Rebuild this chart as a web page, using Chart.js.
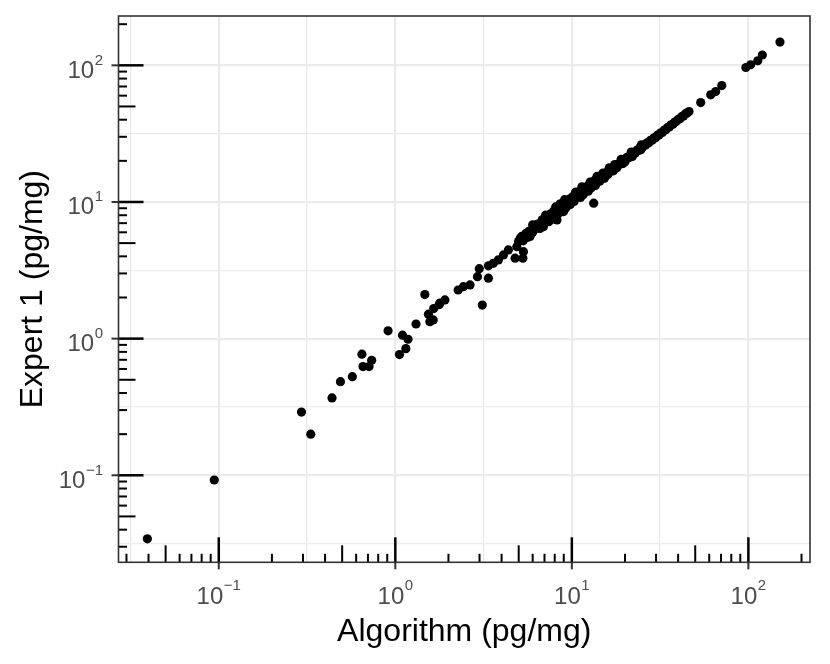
<!DOCTYPE html>
<html><head><meta charset="utf-8">
<script src="https://cdn.jsdelivr.net/npm/chart.js@4"></script>
<style>html,body{margin:0;padding:0;background:#fff;}#wrap{width:830px;height:664px;}</style>
</head><body><div id="wrap"><canvas id="c" width="830" height="664"></canvas></div>
<script>
// Algorithm (pg/mg) values
const algorithm = [
0.0394,0.0943,0.294,0.332,0.438,0.489,0.571,0.647,0.656,0.710,0.735,0.910,1.056,1.099,1.147,1.18,1.31,1.47,1.54,1.57,1.64,1.65,1.77,1.79,1.91,2.27,2.43,2.65,2.92,2.99,3.11,3.37,3.37,3.59,3.84,4.10,4.37,4.77,4.88,4.99,5.10,5.28,5.32,5.44,5.81,6.34,6.62,7.23,7.38,8.24,8.41,8.98,9.39,13.3,
5.2,5.3,5.5,5.6,5.7,5.9,6.0,6.1,6.3,6.4,6.5,6.7,6.8,6.9,7.0,7.2,7.3,7.5,7.6,7.8,7.9,8.1,8.2,8.4,8.5,8.7,8.8,9.0,9.1,9.3,9.4,9.6,9.7,9.9,10.1,10.2,10.4,10.6,10.8,10.9,11.1,11.3,11.5,11.7,11.9,12.1,12.3,12.5,12.8,13.0,13.2,13.5,13.7,14.0,14.2,14.5,14.8,15.1,15.4,15.7,16.0,16.3,16.7,17.0,17.4,17.7,18.1,18.5,18.9,19.3,19.7,20.1,20.5,21.0,21.4,21.9,22.4,22.9,23.4,23.9,24.4,25.0,25.5,26.1,26.7,27.3,27.9,28.5,29.2,29.8,30.5,31.2,31.9,32.6,33.4,34.1,34.9,35.7,36.5,37.4,38.2,39.1,40.0,41.0,41.9,42.9,43.9,44.9,
5.8,6.6,7.4,8.3,9.2,10.3,11.6,12.9,14.4,16.0,18.0,20.0,
6.0,7.1,8.6,10.5,12.7,15.0,17.5,
6.9,7.8,8.8,9.8,11.2,12.4,13.6,15.3,17.2,19.5,22.0,24.6,
8.1,9.1,11.4,13.9,16.3,19.0,21.7,24.8,
46.1,53.7,61.2,65.3,70.7,96.8,103,113,120,151
];
// Expert 1 (pg/mg) values
const expert1 = [
0.0343,0.0924,0.290,0.200,0.368,0.484,0.527,0.769,0.624,0.624,0.695,1.14,0.764,1.06,0.845,0.99,1.28,2.10,1.51,1.33,1.37,1.66,1.77,1.82,1.92,2.27,2.40,2.47,2.84,3.25,1.76,2.77,3.41,3.56,3.77,4.10,4.46,3.88,4.71,5.13,5.43,3.88,4.33,5.74,5.91,6.43,6.80,7.61,7.18,7.39,9.01,8.51,9.25,9.8,
5.6,5.2,5.9,5.5,6.1,6.2,6.0,6.6,6.5,6.9,6.7,7.1,7.4,7.0,7.6,7.4,7.9,7.7,8.2,8.0,8.6,8.4,8.9,8.6,9.2,9.0,9.6,9.3,9.9,9.7,10.2,9.9,10.5,10.3,10.9,10.4,11.2,10.9,11.6,11.1,12.0,11.6,12.3,12.0,12.8,12.4,13.1,12.9,13.7,13.3,14.1,13.9,14.6,14.4,15.1,14.8,15.6,15.5,16.2,16.0,16.8,16.6,17.4,17.3,18.1,18.0,18.8,18.7,19.6,19.5,20.4,20.3,21.2,21.1,22.0,21.9,23.0,22.8,24.0,23.9,25.0,24.9,26.0,26.0,27.1,27.1,28.3,28.3,29.5,29.5,30.8,30.9,32.1,32.3,33.6,33.8,35.1,35.4,36.7,37.1,38.4,38.9,40.2,40.7,42.1,42.6,44.1,44.8,
5.6,6.4,7.2,8.1,9.0,10.1,11.3,12.7,14.2,15.9,17.8,19.7,
6.8,8.0,9.7,11.8,14.0,16.3,18.8,
6.6,7.5,8.5,9.6,10.8,12.0,13.2,14.9,16.9,19.1,21.5,24.1,
9.2,10.4,12.9,15.4,17.8,20.5,23.2,26.2,
45.9,53.4,60.8,64.3,71.1,96.4,101,108,119,148
];
// decade exponents labelled on both axes
const labelExponents = [-1, 0, 1, 2];
const xRange = [0.02704, 223.4];
const yRange = [0.02308, 229.6];
const xTitle = 'Algorithm (pg/mg)';
const yTitle = 'Expert 1 (pg/mg)';

const points = algorithm.map((v, i) => ({x: v, y: expert1[i]}));
const FONT = '"Liberation Sans", Arial, sans-serif';

function gridTicks(scale) {
  const out = [];
  for (let e = -3; e <= 3; e += 0.5) {
    const v = Math.pow(10, e);
    if (v >= scale.min && v <= scale.max) out.push({value: v});
  }
  scale.ticks = out;
}
function isMajor(v) {
  const l = Math.log10(v);
  return Math.abs(l - Math.round(l)) < 1e-6;
}
const gridOpts = {
  color: '#ebebeb',
  lineWidth: (c) => (c.tick && isMajor(c.tick.value)) ? 2.2 : 1.3,
  drawTicks: false
};

function drawPow(ctx, exp, x, baseY, supY, align) {
  const base = '10';
  const sup = exp < 0 ? '\u2212' + (-exp) : String(exp);
  ctx.font = '24px ' + FONT;
  const wb = ctx.measureText(base).width;
  ctx.font = '15px ' + FONT;
  const ws = ctx.measureText(sup).width;
  const total = wb + ws + 0.5;
  let start = align === 'center' ? x - total / 2 : x - total;
  ctx.textAlign = 'left';
  ctx.textBaseline = 'alphabetic';
  ctx.font = '24px ' + FONT;
  ctx.fillText(base, start, baseY);
  ctx.font = '15px ' + FONT;
  ctx.fillText(sup, start + wb + 0.5, supY);
}

const decor = {
  id: 'decor',
  afterDraw(chart) {
    const ctx = chart.ctx;
    const a = chart.chartArea;
    const xs = chart.scales.x, ys = chart.scales.y;
    ctx.save();
    // log ticks (annotation_logticks)
    ctx.strokeStyle = '#000';
    for (let e = -3; e <= 3; e++) {
      for (let m = 1; m <= 9; m++) {
        const v = m * Math.pow(10, e);
        const len = m === 1 ? 25 : (m === 5 ? 17 : 8.5);
        ctx.lineWidth = m === 1 ? 2.5 : 2;
        if (v >= xs.min && v <= xs.max) {
          const px = xs.getPixelForValue(v);
          ctx.beginPath(); ctx.moveTo(px, a.bottom); ctx.lineTo(px, a.bottom - len); ctx.stroke();
        }
        if (v >= ys.min && v <= ys.max) {
          const py = ys.getPixelForValue(v);
          ctx.beginPath(); ctx.moveTo(a.left, py); ctx.lineTo(a.left + len, py); ctx.stroke();
        }
      }
    }
    // panel border
    ctx.strokeStyle = '#333333';
    ctx.lineWidth = 1.6;
    ctx.strokeRect(a.left, a.top, a.right - a.left, a.bottom - a.top);
    // axis ticks + labels
    ctx.lineWidth = 2;
    ctx.fillStyle = '#4d4d4d';
    labelExponents.forEach(e => {
      const v = Math.pow(10, e);
      const px = xs.getPixelForValue(v);
      ctx.beginPath(); ctx.moveTo(px, a.bottom); ctx.lineTo(px, a.bottom + 7); ctx.stroke();
      drawPow(ctx, e, px, 603.5, 590, 'center');
      const py = ys.getPixelForValue(v);
      ctx.beginPath(); ctx.moveTo(a.left, py); ctx.lineTo(a.left - 7, py); ctx.stroke();
      drawPow(ctx, e, 103, py + 12.5, py - 0.5, 'right');
    });
    // titles
    ctx.fillStyle = '#000';
    ctx.font = '32px ' + FONT;
    ctx.textAlign = 'center';
    ctx.textBaseline = 'alphabetic';
    ctx.fillText(xTitle, (a.left + a.right) / 2, 641);
    ctx.translate(42, (a.top + a.bottom) / 2);
    ctx.rotate(-Math.PI / 2);
    ctx.fillText(yTitle, 0, 0);
    ctx.restore();
  }
};

new Chart(document.getElementById('c'), {
  type: 'scatter',
  data: { datasets: [{ data: points, backgroundColor: '#000', borderWidth: 0, pointRadius: 4.6, pointHoverRadius: 4.6 }] },
  options: {
    responsive: false,
    animation: false,
    events: [],
    layout: { padding: { left: 0, top: 16, right: 20, bottom: 0 } },
    plugins: { legend: { display: false }, tooltip: { enabled: false } },
    scales: {
      x: {
        type: 'logarithmic', min: xRange[0], max: xRange[1],
        ticks: { display: false },
        grid: gridOpts,
        border: { display: false },
        afterBuildTicks: gridTicks,
        afterFit: (s) => { s.height = 101.7; }
      },
      y: {
        type: 'logarithmic', min: yRange[0], max: yRange[1],
        ticks: { display: false },
        grid: gridOpts,
        border: { display: false },
        afterBuildTicks: gridTicks,
        afterFit: (s) => { s.width = 118.5; }
      }
    }
  },
  plugins: [decor]
});
</script>
</body></html>
